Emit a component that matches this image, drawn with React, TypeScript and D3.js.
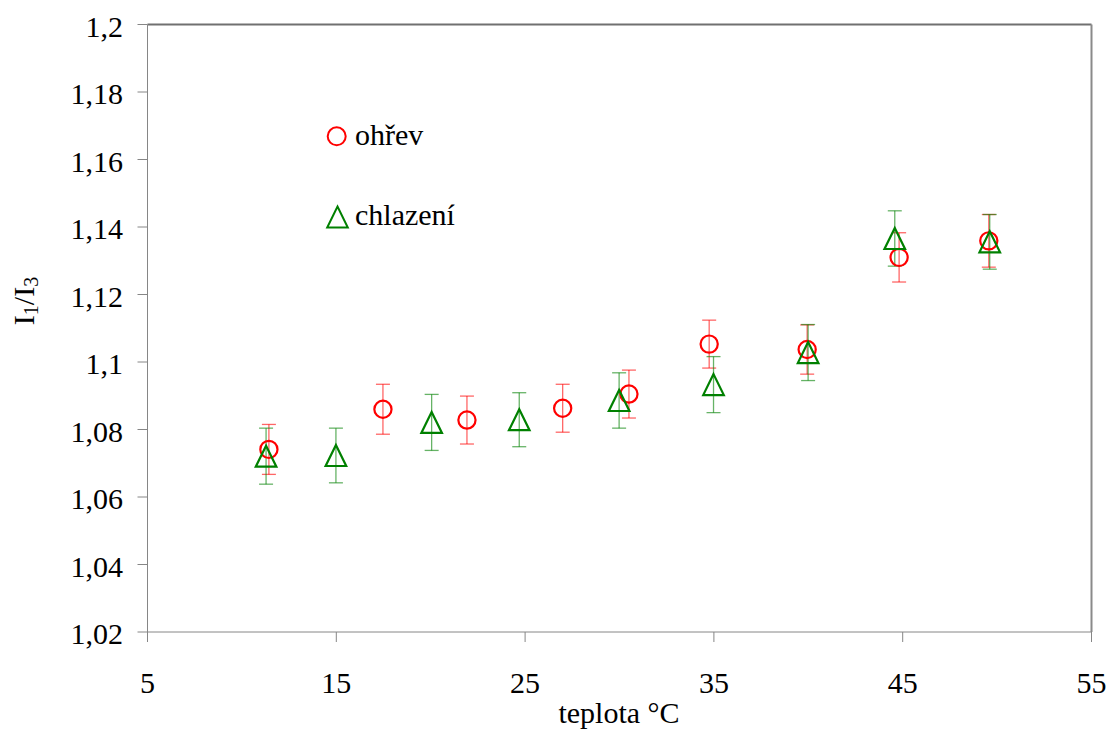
import React from "react";
import * as d3 from "d3";

// ohřev (heating) – red circles
const heatTemp = [11.43, 17.47, 21.92, 26.99, 30.5, 34.75, 39.94, 44.81, 49.56];
const heatRatio = [1.0741, 1.086, 1.0828, 1.0863, 1.0905, 1.1053, 1.1037, 1.131, 1.1359];
const heatErr = [0.0074, 0.0074, 0.0071, 0.0071, 0.0071, 0.0071, 0.0073, 0.0073, 0.0078];

// chlazení (cooling) – green triangles
const coolTemp = [11.28, 14.98, 20.05, 24.69, 29.98, 34.98, 39.99, 44.58, 49.61];
const coolRatio = [1.0721, 1.0723, 1.0821, 1.0829, 1.0886, 1.0933, 1.1028, 1.1366, 1.1356];
const coolErr = [0.0083, 0.0081, 0.0083, 0.008, 0.0082, 0.0083, 0.0083, 0.0082, 0.0081];

const xTicks = [5, 15, 25, 35, 45, 55];
const yTicks = [1.02, 1.04, 1.06, 1.08, 1.1, 1.12, 1.14, 1.16, 1.18, 1.2];

const W = 1110;
const H = 740;
const FONT = "Liberation Serif";
const RED = "#ff0000";
const GREEN = "#008000";
const AXIS = "#868686";

const x = d3.scaleLinear().domain([5, 55]).range([147.5, 1091.5]);
const y = d3.scaleLinear().domain([1.02, 1.2]).range([632, 24.5]);

const fmt = (v: number) => String(+v.toFixed(2)).replace(".", ",");

const triangle = "M0,-10.5L10.3,10.5L-10.3,10.5Z";

const txt = { fontFamily: FONT, fontSize: 30 };

function ErrorBar({ cx, v, e, color }: { cx: number; v: number; e: number; color: string }) {
  const top = y(v + e);
  const bot = y(v - e);
  return (
    <g stroke={color} strokeWidth={1.3} strokeOpacity={0.6}>
      <line x1={cx} x2={cx} y1={top} y2={bot} />
      <line x1={cx - 7} x2={cx + 7} y1={top} y2={top} />
      <line x1={cx - 7} x2={cx + 7} y1={bot} y2={bot} />
    </g>
  );
}

export default function App() {
  const [x0, x1] = x.range();
  const [y0, y1] = y.range();
  return (
    <svg
      width={W}
      height={H}
      style={{ position: "absolute", left: 0, top: 0, display: "block", background: "#fff" }}
    >
      {/* plot frame */}
      <line x1={x0} x2={x1} y1={y1} y2={y1} stroke="#707070" strokeWidth={2} />
      <line x1={x1} x2={x1} y1={y1} y2={y0} stroke="#8a8a8a" strokeWidth={2} />
      <line x1={x0} x2={x0} y1={y1} y2={y0} stroke={AXIS} strokeWidth={1} />
      <line x1={x0} x2={x1} y1={y0} y2={y0} stroke={AXIS} strokeWidth={1} />

      {/* y axis */}
      {yTicks.map((t) => (
        <g key={"y" + t}>
          <line x1={x0 - 10} x2={x0} y1={y(t)} y2={y(t)} stroke={AXIS} />
          <text x={123} y={y(t) + 12} style={txt} textAnchor="end" fill="#000">
            {fmt(t)}
          </text>
        </g>
      ))}

      {/* x axis */}
      {xTicks.map((t) => (
        <g key={"x" + t}>
          <line x1={x(t)} x2={x(t)} y1={y0} y2={y0 + 10} stroke={AXIS} />
          <text x={x(t)} y={692.5} style={txt} textAnchor="middle" fill="#000">
            {t}
          </text>
        </g>
      ))}

      <text x={619} y={723} style={txt} textAnchor="middle" fill="#000">
        teplota °C
      </text>

      <text transform="translate(34,301) rotate(-90)" style={txt} textAnchor="middle" fill="#000">
        I
        <tspan style={{ fontSize: 20 }} dy={4}>1</tspan>
        <tspan dy={-4}>/I</tspan>
        <tspan style={{ fontSize: 20 }} dy={4}>3</tspan>
      </text>

      {/* error bars */}
      {heatTemp.map((t, i) => (
        <ErrorBar key={"he" + i} cx={x(t)} v={heatRatio[i]} e={heatErr[i]} color={RED} />
      ))}
      {coolTemp.map((t, i) => (
        <ErrorBar key={"ce" + i} cx={x(t)} v={coolRatio[i]} e={coolErr[i]} color={GREEN} />
      ))}

      {/* markers */}
      {heatTemp.map((t, i) => (
        <circle
          key={"h" + i}
          cx={x(t)}
          cy={y(heatRatio[i])}
          r={8.6}
          fill="none"
          stroke={RED}
          strokeWidth={2.2}
        />
      ))}
      {coolTemp.map((t, i) => (
        <path
          key={"c" + i}
          d={triangle}
          transform={`translate(${x(t)},${y(coolRatio[i])})`}
          fill="none"
          stroke={GREEN}
          strokeWidth={2.2}
        />
      ))}

      {/* legend */}
      <circle cx={336.7} cy={136.3} r={9} fill="none" stroke={RED} strokeWidth={2} />
      <text x={355} y={145} style={txt} fill="#000">
        ohřev
      </text>
      <path d={triangle} transform="translate(337.5,217)" fill="none" stroke={GREEN} strokeWidth={2} />
      <text x={355} y={225} style={txt} fill="#000">
        chlazení
      </text>
    </svg>
  );
}
